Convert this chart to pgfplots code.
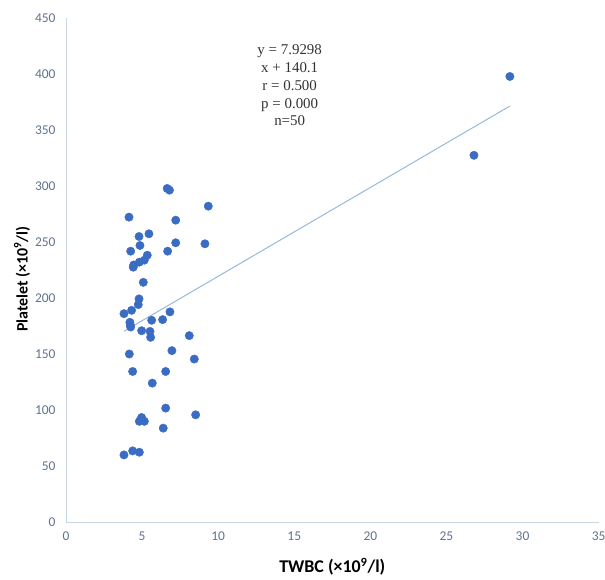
\documentclass[border=0pt]{standalone}
\usepackage{pgfplots}
\pgfplotsset{compat=1.18}
\usepackage{fontspec}
\setmainfont{Carlito}
\newfontfamily\seriffont{Liberation Serif}
\definecolor{ptblue}{RGB}{58,108,196}
\definecolor{trend}{RGB}{150,185,220}
\definecolor{axisgray}{RGB}{200,215,225}
\definecolor{ticklab}{RGB}{95,115,145}
\begin{document}
\begin{tikzpicture}
\path[use as bounding box] (-66bp,-58bp) rectangle (539bp,522bp);
\begin{axis}[
  scale only axis, width=532.6bp, height=504bp,
  xmin=0, xmax=35, ymin=0, ymax=450,
  axis x line=bottom, axis y line=left,
  axis line style={draw=axisgray, line width=0.8bp, -},
  xtick={0,5,...,35}, ytick={0,50,...,450},
  major tick length=0,
  tick label style={font=\fontsize{13.5}{16}\selectfont, text=ticklab},
  /pgf/number format/assume math mode=true,
  xticklabel style={yshift=-6bp},
  yticklabel style={xshift=-7bp},
  xlabel={TWBC (×10\textsuperscript{9}/l)},
  ylabel={Platelet (×10\textsuperscript{9}/l)},
  xlabel style={font=\fontsize{18}{21}\selectfont\bfseries, text=black,
    at={(axis description cs:0.5,0)}, anchor=center, yshift=-45bp},
  ylabel style={font=\fontsize{16}{19}\selectfont\bfseries, text=black,
    at={(axis description cs:0,0.482)}, anchor=center, yshift=44bp},
  clip=false,
]
\addplot[only marks, mark=*, mark size=4.2bp, mark options={fill=ptblue, draw=ptblue}] table {
x y
6.65 297.8
6.80 296.3
9.35 282
4.14 272.2
7.21 269.5
5.45 257.3
4.80 254.9
4.86 246.9
7.21 249.3
9.13 248.4
4.25 241.8
6.68 241.8
5.34 238.2
5.15 233.8
4.82 232.0
4.42 227.5
4.45 229.5
5.08 214
4.80 199.2
4.75 194.1
4.31 189
3.81 186
4.20 178.3
4.22 176
4.25 174.1
5.63 180.1
6.35 180.7
6.83 187.6
4.97 170.8
5.52 170.2
5.56 164.9
8.10 166.4
6.96 153
4.16 150
8.43 145.5
4.38 134.4
6.55 134.4
5.67 124
6.55 101.7
8.52 95.7
4.97 93.3
4.95 92.0
4.82 89.9
5.15 89.9
6.39 83.8
3.81 59.9
4.38 63.5
4.82 62.3
29.17 397.8
26.81 327.4
};
\addplot[trend, line width=1bp, no marks] coordinates {(3.81,170.3) (29.17,371.4)};
\node[align=center, font=\seriffont\fontsize{15}{18}\selectfont, text=black!80] at (axis cs:14.7,390) {y = 7.9298\\x + 140.1\\r = 0.500\\p = 0.000\\n=50};
\end{axis}
\end{tikzpicture}
\end{document}
